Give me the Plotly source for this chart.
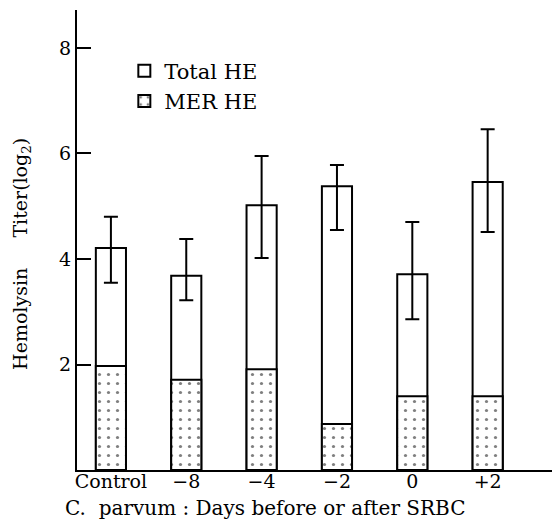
import plotly.graph_objects as go

categories = ["Control", "\u22128", "\u22124", "\u22122", "0", "+2"]
total_he = [4.21, 3.68, 5.02, 5.38, 3.71, 5.46]
total_err_plus = [0.59, 0.70, 0.93, 0.40, 0.99, 1.00]
total_err_minus = [0.66, 0.46, 1.00, 0.83, 0.85, 0.95]
mer_he = [1.97, 1.71, 1.91, 0.87, 1.40, 1.40]

FONT = "DejaVu Serif"

fig = go.Figure()
fig.add_trace(go.Bar(
    x=categories, y=total_he, name="Total HE", width=0.4,
    marker=dict(color="white", line=dict(color="black", width=2)),
    error_y=dict(type="data", array=total_err_plus, arrayminus=total_err_minus,
                 symmetric=False, color="black", thickness=2, width=7),
))
fig.add_trace(go.Bar(
    x=categories, y=mer_he, name="MER HE", width=0.4,
    marker=dict(color="white", line=dict(color="black", width=2),
                pattern=dict(shape=".", fgcolor="black", bgcolor="white",
                             size=9, solidity=0.1)),
))

# page body has an 8px default margin: figure is sized/offset to compensate
fig.update_layout(
    width=552, height=522,
    margin=dict(l=69, r=0, t=2, b=60),
    barmode="overlay",
    plot_bgcolor="white", paper_bgcolor="white",
    font=dict(family=FONT, size=19, color="black"),
    showlegend=True,
    legend=dict(x=0.098, y=0.912, xanchor="left", yanchor="top",
                font=dict(size=21), bgcolor="rgba(0,0,0,0)",
                tracegroupgap=0),
    xaxis=dict(range=[-0.45, 5.96], showline=True, linecolor="black", linewidth=2,
               ticks="", showgrid=False, zeroline=False, ticklabelstandoff=-7),
    yaxis=dict(range=[0, 8.72], tickvals=[2, 4, 6, 8], ticks="inside", ticklen=14,
               tickwidth=2, tickcolor="black", showline=True, linecolor="black",
               linewidth=2, showgrid=False, zeroline=False, ticklabelstandoff=0),
    annotations=[
        dict(text="Hemolysin&nbsp;&nbsp;&nbsp;&nbsp;&nbsp;Titer(log<sub>2</sub>)",
             xref="paper", yref="paper", x=-0.114, y=0.4696,
             xanchor="center", yanchor="middle", textangle=-90,
             showarrow=False, font=dict(size=19)),
        dict(text="C.&nbsp; parvum : Days before or after SRBC",
             xref="paper", yref="paper", x=-0.029, y=-0.083,
             xanchor="left", yanchor="middle", showarrow=False,
             font=dict(size=20)),
    ],
)

fig.write_html("out.html")
